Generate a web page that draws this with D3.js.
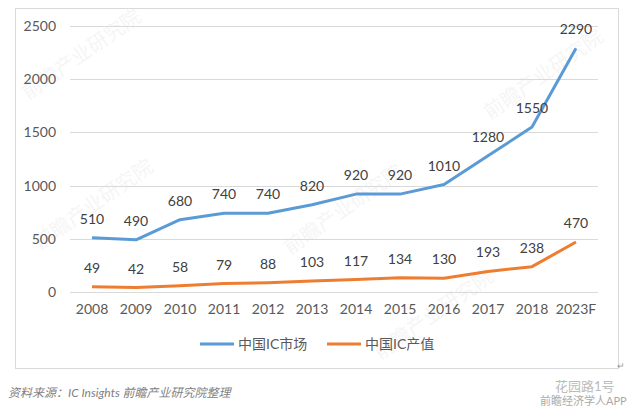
<!DOCTYPE html>
<html>
<head>
<meta charset="utf-8">
<script src="https://cdn.jsdelivr.net/npm/d3@7"></script>
<style>
  body { margin: 0; background: #fff; }
  svg { display: block; font-family: Lato, "Noto Sans CJK SC", sans-serif; }
</style>
</head>
<body>
<div id="chart"></div>
<script>
// chart data
const years = ["2008", "2009", "2010", "2011", "2012", "2013", "2014", "2015", "2016", "2017", "2018", "2023F"];
const marketValues = [510, 490, 680, 740, 740, 820, 920, 920, 1010, 1280, 1550, 2290];
const outputValues = [49, 42, 58, 79, 88, 103, 117, 134, 130, 193, 238, 470];
const yTicks = [0, 500, 1000, 1500, 2000, 2500];
const seriesNames = ["中国IC市场", "中国IC产值"];
const seriesColors = ["#5B9BD5", "#ED7D31"];

const W = 640, H = 412;
const svg = d3.select("#chart").append("svg")
  .attr("width", W)
  .attr("height", H);

// chart frame
svg.append("rect")
  .attr("x", 15.5).attr("y", 8.5)
  .attr("width", 603).attr("height", 360)
  .attr("fill", "#fff")
  .attr("stroke", "#d9d9d9");

// faint watermarks
const marks = [[28, 100], [40, 250], [290, 255], [490, 120], [380, 360]];
marks.forEach(([mx, my]) => {
  svg.append("text")
    .attr("transform", `translate(${mx},${my}) rotate(-35)`)
    .attr("font-size", 20)
    .attr("fill", "#000")
    .attr("opacity", 0.035)
    .text("前瞻产业研究院");
});

const x = d3.scaleBand().domain(years).range([70, 598]);
const y = d3.scaleLinear().domain([0, 2500]).range([292, 26]);

// gridlines
svg.append("g")
  .selectAll("line")
  .data(yTicks)
  .join("line")
  .attr("x1", 70).attr("x2", 598)
  .attr("y1", d => Math.round(y(d)) + 0.5)
  .attr("y2", d => Math.round(y(d)) + 0.5)
  .attr("stroke", "#d9d9d9");

// y axis
const yAxis = svg.append("g")
  .attr("transform", "translate(56,0)")
  .call(d3.axisLeft(y).tickValues(yTicks).tickFormat(d3.format("d")).tickSize(0).tickPadding(0));
yAxis.select(".domain").remove();
yAxis.selectAll("text").attr("font-size", 14).attr("fill", "#595959").attr("font-family", "Lato, sans-serif");

// x axis
const xAxis = svg.append("g")
  .attr("transform", "translate(0,304)")
  .call(d3.axisBottom(x).tickSize(0).tickPadding(0));
xAxis.select(".domain").remove();
xAxis.selectAll("text").attr("font-size", 14).attr("fill", "#595959").attr("font-family", "Lato, sans-serif");

const line = d3.line()
  .x((d, i) => x(years[i]) + x.bandwidth() / 2)
  .y(d => y(d));

[marketValues, outputValues].forEach((vals, k) => {
  svg.append("path")
    .datum(vals)
    .attr("d", line)
    .attr("fill", "none")
    .attr("stroke", seriesColors[k])
    .attr("stroke-width", 3)
    .attr("stroke-linejoin", "round");

  svg.append("g")
    .selectAll("text")
    .data(vals)
    .join("text")
    .attr("x", (d, i) => x(years[i]) + x.bandwidth() / 2)
    .attr("y", d => y(d) - 14)
    .attr("text-anchor", "middle")
    .attr("font-size", 14)
    .attr("fill", "#404040")
    .attr("font-family", "Lato, sans-serif")
    .text(d => d);
});

// legend
const legendX = [200, 327];
seriesNames.forEach((name, k) => {
  const g = svg.append("g").attr("transform", `translate(${legendX[k]},344)`);
  g.append("line")
    .attr("x1", 0).attr("x2", 34)
    .attr("stroke", seriesColors[k])
    .attr("stroke-width", 3);
  g.append("text")
    .attr("x", 38).attr("y", 5)
    .attr("font-size", 14)
    .attr("fill", "#595959")
    .text(name);
});

// small return mark at the frame corner
svg.append("text")
  .attr("x", 617).attr("y", 369)
  .attr("font-size", 9)
  .attr("fill", "#999")
  .text("↵");

// source note
svg.append("text")
  .attr("x", 8).attr("y", 397)
  .attr("font-size", 12)
  .attr("font-style", "italic")
  .attr("fill", "#7f7f7f")
  .text("资料来源：IC Insights 前瞻产业研究院整理");

// bottom-right watermark
svg.append("text")
  .attr("x", 555).attr("y", 391)
  .attr("font-size", 13)
  .attr("fill", "#bbb")
  .text("花园路1号");
svg.append("text")
  .attr("x", 540).attr("y", 405)
  .attr("font-size", 11)
  .attr("fill", "#aaa")
  .text("前瞻经济学人APP");
</script>
</body>
</html>
